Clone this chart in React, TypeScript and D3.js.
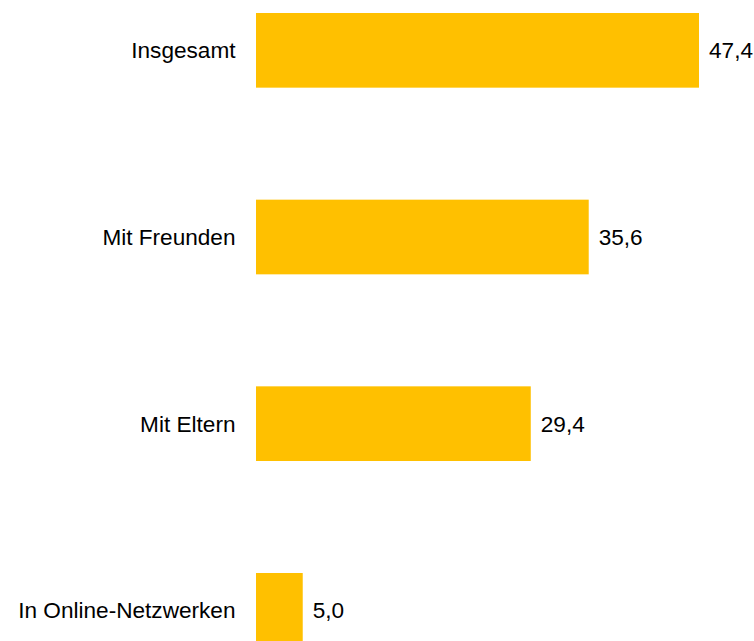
import React from "react";
import * as d3 from "d3";

const categories = ["Insgesamt", "Mit Freunden", "Mit Eltern", "In Online-Netzwerken"];
const values = [47.4, 35.6, 29.4, 5.0];
const valueLabels = ["47,4", "35,6", "29,4", "5,0"];

const W = 754;
const H = 641;

export default function App() {
  const x = d3.scaleLinear().domain([0, 47.4]).range([256, 699]);
  const y = d3.scaleBand<string>().domain(categories).range([13, 647.67]).paddingInner(0.6).paddingOuter(0);
  const font = "'Liberation Sans', Arial, sans-serif";
  const fs = 22.6;
  return (
    <svg width={W} height={H} style={{ position: "absolute", left: 0, top: 0, background: "#fff" }}>
      {categories.map((c, i) => {
        const yy = y(c)!;
        const cy = yy + y.bandwidth() / 2;
        return (
          <g key={c}>
            <rect x={x(0)} y={yy} width={x(values[i]) - x(0)} height={y.bandwidth()} fill="#FFC000" />
            <text x={235.5} y={cy} dy="0.35em" textAnchor="end" fontFamily={font} fontSize={fs} fill="#000">{c}</text>
            <text x={x(values[i]) + 10} y={cy} dy="0.35em" textAnchor="start" fontFamily={font} fontSize={fs} fill="#000">{valueLabels[i]}</text>
          </g>
        );
      })}
    </svg>
  );
}
